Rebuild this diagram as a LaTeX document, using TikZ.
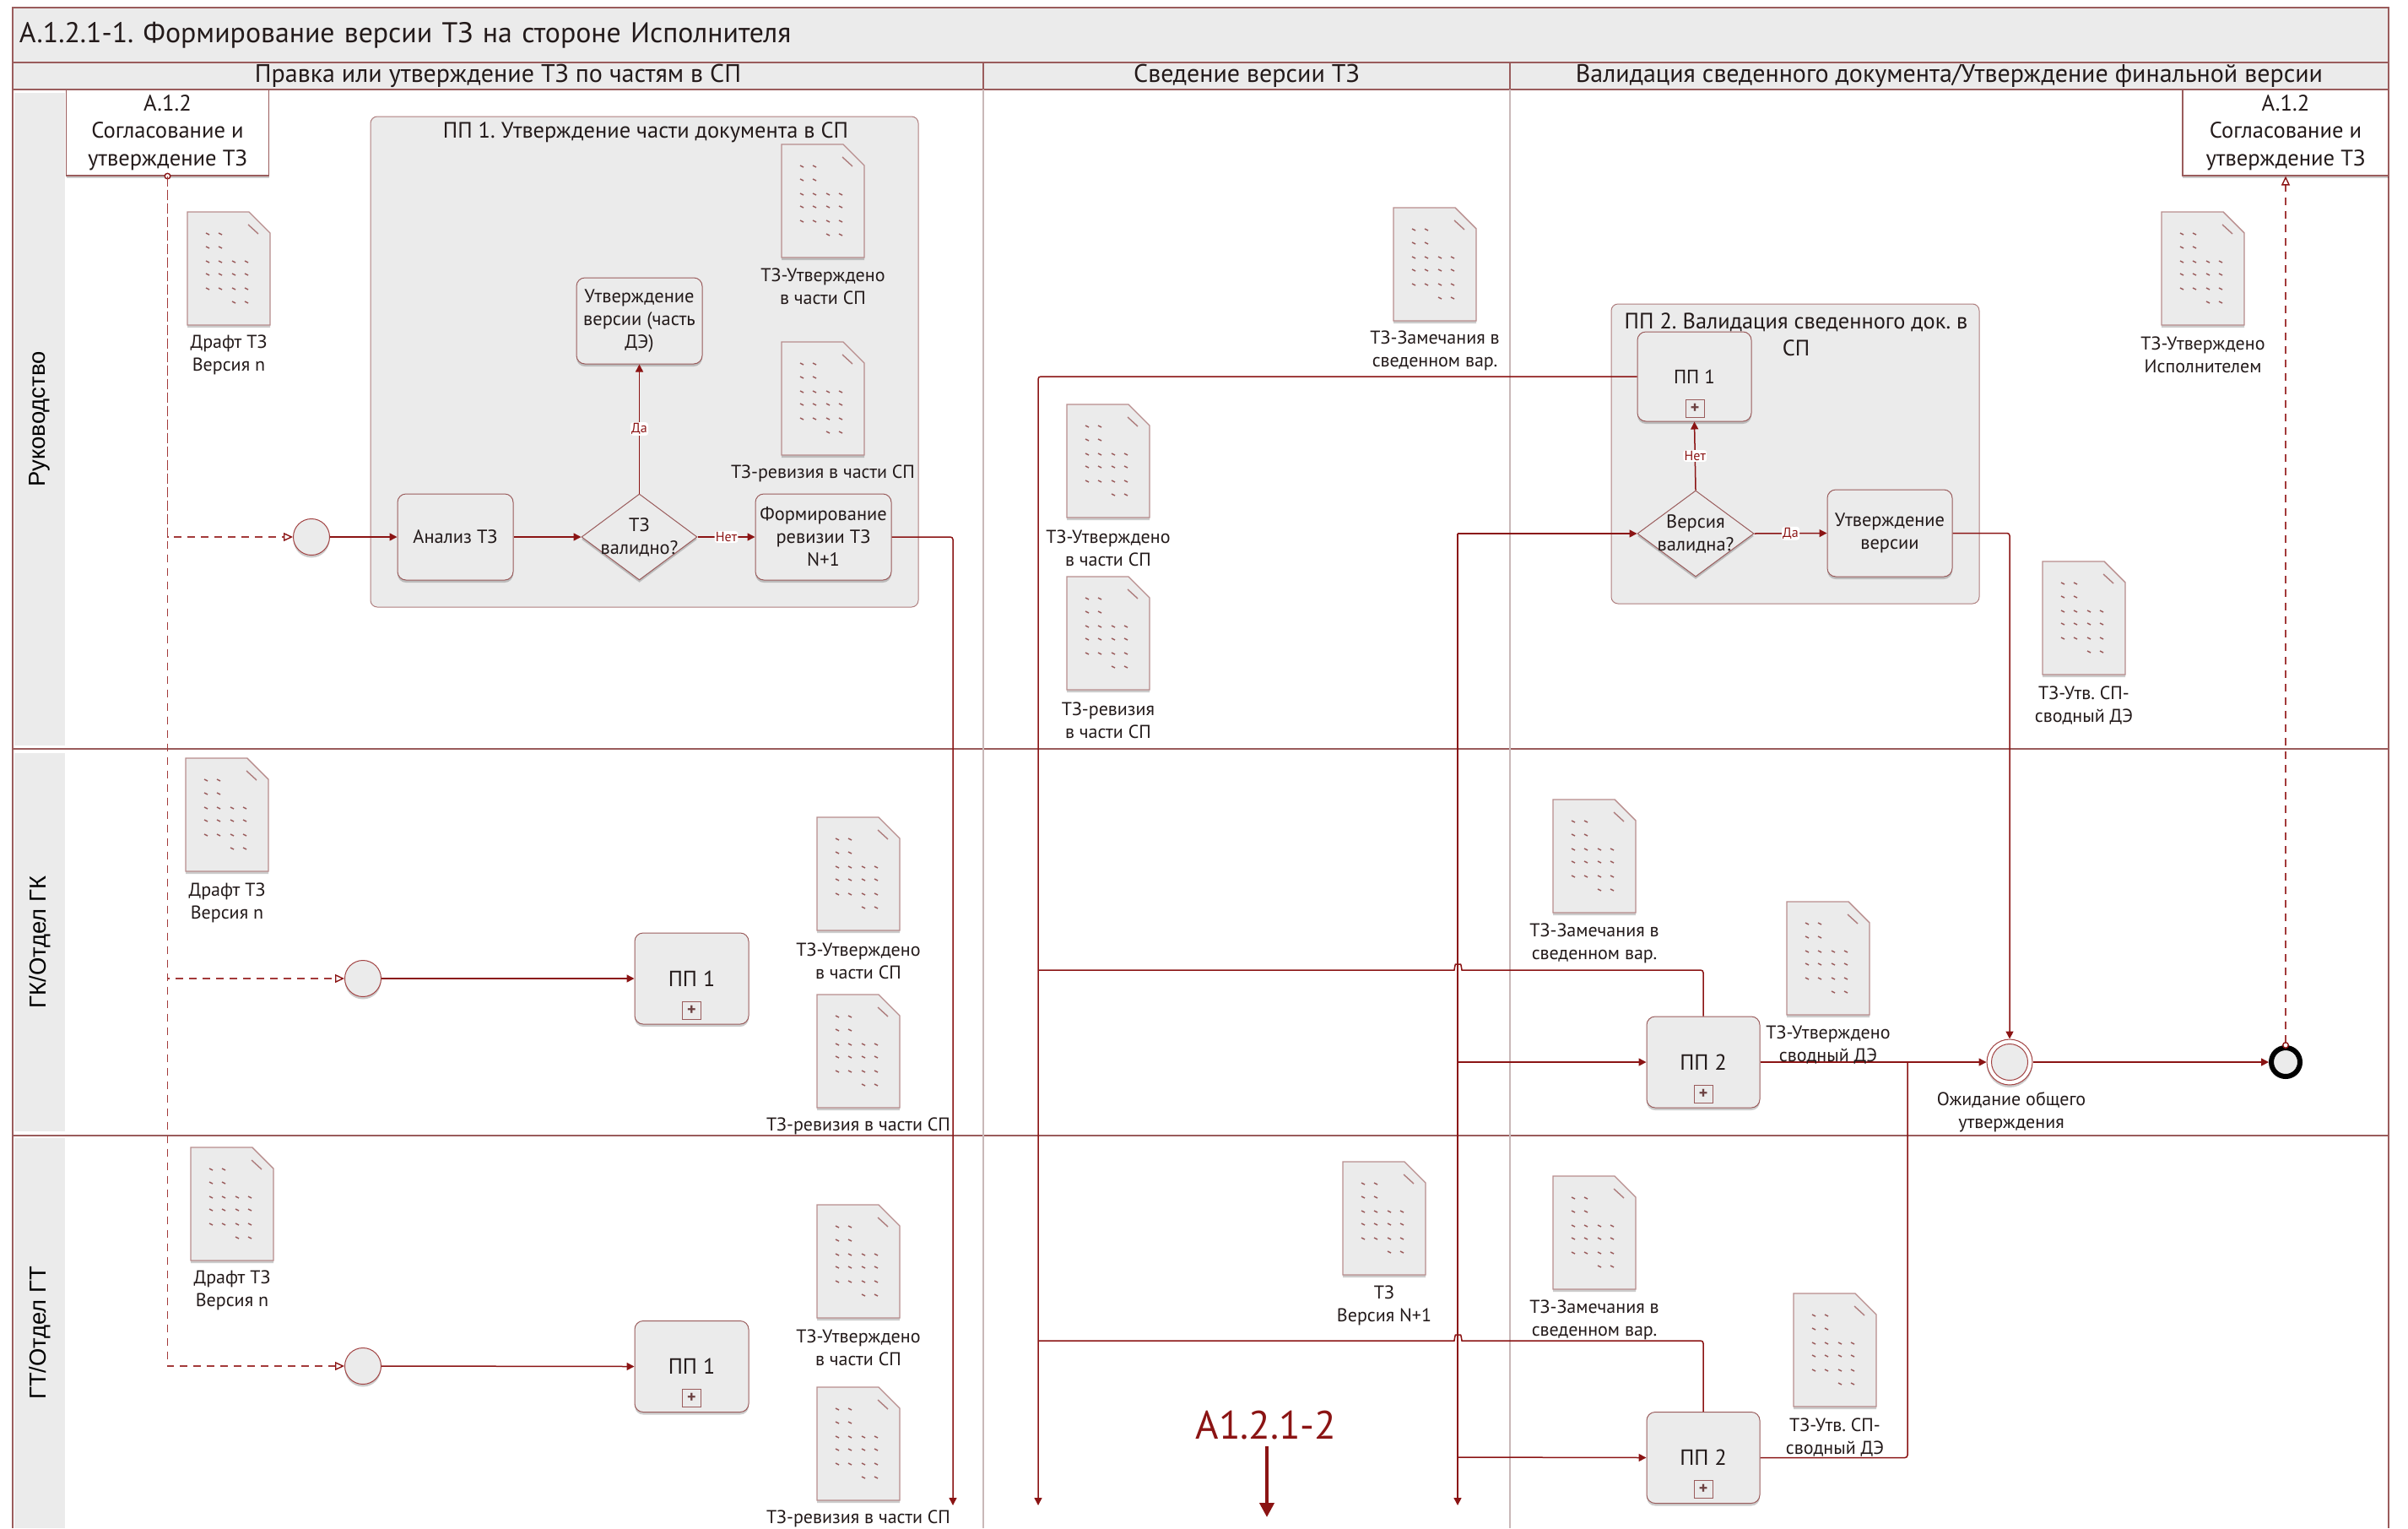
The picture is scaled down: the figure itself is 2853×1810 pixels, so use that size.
\documentclass[tikz,border=0pt]{standalone}
\usepackage{fontspec}
\setmainfont{PT Sans}
\newfontfamily\lanefont{Liberation Sans}
\usepackage{tikz}
\usetikzlibrary{arrows.meta,positioning,shapes.geometric,shadows}
\definecolor{FlowRed}{HTML}{8B1414}
\definecolor{DashRed}{HTML}{A33A3A}
\definecolor{FrameRed}{HTML}{9A5C5C}
\definecolor{PaleLine}{HTML}{C9B8B8}
\definecolor{PanelGray}{HTML}{EBEBEB}
\definecolor{InkGray}{HTML}{231A1A}
\frenchspacing
\tikzset{
  softshadow/.style={drop shadow={shadow xshift=0pt,shadow yshift=-1.5pt,opacity=.2,fill=black}},
  band/.style={draw=FrameRed,fill=PanelGray,line width=.6pt,text=InkGray,inner sep=0pt},
  lanelabel/.style={fill=PanelGray,rotate=90,text=black,minimum height=30pt,inner sep=0pt,font=\lanefont\fontsize{13.7}{15}\selectfont},
  laneline/.style={draw=FrameRed,line width=.6pt},
  columnline/.style={draw=PaleLine,line width=.8pt},
  refbox/.style={draw=FrameRed,fill=white,line width=.6pt,align=center,text=InkGray,minimum width=120pt,minimum height=51pt,inner sep=0pt,font=\fontsize{13.3}{16.2}\selectfont,softshadow},
  group/.style={draw=FrameRed!80,fill=PanelGray,rounded corners=4pt,line width=.5pt,inner sep=0pt},
  grouptitle/.style={align=center,text=InkGray,inner sep=0pt,font=\fontsize{13.2}{16}\selectfont},
  task/.style={draw=FrameRed,fill=PanelGray,rounded corners=5pt,line width=.5pt,align=center,text=InkGray,inner sep=0pt,font=\fontsize{11.2}{13.5}\selectfont,softshadow},
  subtask/.style={task,font=\fontsize{13}{15}\selectfont,text depth=0pt},
  plusbox/.style={draw=FrameRed,fill=PanelGray,line width=.5pt,minimum width=11pt,minimum height=10.5pt,inner sep=0pt,text=FrameRed!70!black,font=\bfseries\fontsize{10}{10}\selectfont},
  decision/.style={diamond,draw=FrameRed,fill=PanelGray,line width=.5pt,inner sep=0pt,softshadow},
  decisiontext/.style={align=center,text=InkGray,inner sep=0pt,font=\fontsize{11.2}{13.5}\selectfont},
  startev/.style={circle,draw=FlowRed!80,fill=PanelGray,line width=.5pt,minimum size=21.5pt,inner sep=0pt,softshadow},
  waitev/.style={circle,draw=FlowRed!80,fill=white,line width=.5pt,minimum size=27pt,inner sep=0pt,softshadow},
  waitin/.style={circle,draw=FlowRed!80,fill=PanelGray,line width=.5pt,minimum size=21.5pt,inner sep=0pt},
  endev/.style={circle,draw=black,fill=PanelGray,line width=3pt,minimum size=17pt,inner sep=0pt,softshadow},
  flow/.style={draw=FlowRed,line width=.75pt,rounded corners=1.5pt,-{Triangle[length=4.5pt,width=4.5pt]}},
  flowjoin/.style={draw=FlowRed,line width=.75pt,rounded corners=1.5pt},
  message/.style={draw=DashRed,line width=.7pt,dash pattern=on 4.5pt off 3.5pt,{Circle[open,length=4pt,width=4pt,fill=white,color=FlowRed]}-{Triangle[open,length=5.5pt,width=5pt,color=FlowRed]},shorten <=-2pt},
  messageto/.style={draw=DashRed,line width=.7pt,dash pattern=on 4.5pt off 3.5pt,-{Triangle[open,length=5.5pt,width=5pt,color=FlowRed]}},
  edgelabel/.style={fill=white,text=FlowRed,inner sep=.6pt,font=\fontsize{8}{9}\selectfont},
  doclabel/.style={align=center,text=InkGray,inner sep=0pt,font=\fontsize{11}{13.5}\selectfont},
  docpic/.pic={
    \path[draw=FrameRed!70,fill=PanelGray,line width=.7pt,softshadow] (0,0) -- (73,0) -- (98,25) -- (98,134) -- (0,134) -- cycle;
    \draw[FrameRed!80,line width=.7pt] (72,15) -- (84,26);
    \foreach \rowy/\cols in {25/{22,37},41/{22,37},58/{22,37,53,68},73/{22,37,53,68},90/{22,37,53,68},106/{53,68}}
      \foreach \colx in \cols
        \draw[FrameRed,line width=.7pt] (\colx,\rowy) -- ++(4,2);
  }
}
\newcommand{\docitem}[5]{\pic at (#2,#3) {docpic}; \node[doclabel] (#1) at (#2+49,#4) {#5};}
\begin{document}
\begin{tikzpicture}[x=.5pt,y=-.5pt]
\useasboundingbox (0,0) rectangle (2853,1810);
\node[band,minimum width=1407.5pt,minimum height=32.5pt,text width=1399.5pt,inner xsep=4pt,align=left,font=\fontsize{16.9}{18}\selectfont] (title) at (1422.5,41.5) {А.1.2.1-1. Формирование версии ТЗ на стороне Исполнителя};
\node[band,minimum width=575pt,minimum height=16pt,font=\fontsize{15}{16}\selectfont] (colA) at (590,90) {Правка или утверждение ТЗ по частям в СП};
\node[band,minimum width=312pt,minimum height=16pt,font=\fontsize{15}{16}\selectfont] (colB) at (1477,90) {Сведение версии ТЗ};
\node[band,minimum width=520.5pt,minimum height=16pt,font=\fontsize{15}{16}\selectfont] (colC) at (2309.5,90) {Валидация сведенного документа/Утверждение финальной версии};
\node[lanelabel,minimum width=386.5pt] (laneA) at (47,496.5) {Руководство};
\node[lanelabel,minimum width=224pt] (laneB) at (47,1116) {ГК/Отдел ГК};
\node[lanelabel,minimum width=231pt] (laneC) at (47,1579) {ГТ/Отдел ГТ};
\draw[laneline] (15,106) -- (15,1810);
\draw[laneline] (2830,106) -- (2830,1810);
\draw[laneline] (15,887) -- (2830,887);
\draw[laneline] (15,1345) -- (2830,1345);
\draw[columnline] (1165,106) -- (1165,1810);
\draw[columnline] (1789,106) -- (1789,1810);
\node[group,minimum width=324.5pt,minimum height=290.5pt] (groupA) at (763.5,428.5) {};
\node[group,minimum width=218pt,minimum height=177.5pt] (groupB) at (2127,537.5) {};
\node[grouptitle] (groupAtitle) at (765,157) {ПП 1. Утверждение части документа в СП};
\node[grouptitle] (groupBtitle) at (2128,396) {ПП 2. Валидация сведенного док. в\\СП};
\node[refbox] (refL) at (198.5,157) {А.1.2\\Согласование и\\утверждение ТЗ};
\node[refbox,minimum width=122pt] (refR) at (2708,157) {А.1.2\\Согласование и\\утверждение ТЗ};
\node[startev] (startA) at (369,636) {};
\node[startev] (startB) at (430,1159) {};
\node[startev] (startC) at (430,1618) {};
\node[task,minimum width=68.5pt,minimum height=51pt] (analysis) at (539.5,636) {Анализ ТЗ};
\node[decision,minimum width=68.5pt,minimum height=51pt] (checkA) at (757.5,636) {};
\node[decisiontext] (checkAtext) at (757.5,636) {ТЗ\\валидно?};
\node[task,minimum width=80.5pt,minimum height=51pt] (revision) at (975.5,636) {Формирование\\ревизии ТЗ\\N+1};
\node[task,minimum width=74.5pt,minimum height=51pt] (approveA) at (757.5,380) {Утверждение\\версии (часть\\ДЭ)};
\node[subtask,minimum width=67.5pt,minimum height=53pt,font=\fontsize{11.5}{13}\selectfont] (ppOne) at (2007.5,446) {ПП 1};
\node[plusbox] (ppOneplus) at (2008,483.5) {+};
\node[decision,minimum width=69pt,minimum height=51pt] (checkB) at (2009,632) {};
\node[decisiontext] (checkBtext) at (2009,632) {Версия\\валидна?};
\node[task,minimum width=74pt,minimum height=51.5pt] (approveB) at (2239,631.5) {Утверждение\\версии};
\node[subtask,minimum width=67.5pt,minimum height=54pt] (ppOneB) at (819.5,1159) {ПП 1};
\node[plusbox] (ppOneBplus) at (819.5,1197) {+};
\node[subtask,minimum width=67.5pt,minimum height=54pt] (ppOneC) at (819.5,1618.5) {ПП 1};
\node[plusbox] (ppOneCplus) at (819.5,1656) {+};
\node[subtask,minimum width=67pt,minimum height=54pt] (ppTwoB) at (2018,1258) {ПП 2};
\node[plusbox] (ppTwoBplus) at (2018,1296) {+};
\node[subtask,minimum width=67pt,minimum height=54pt] (ppTwoC) at (2018,1726.5) {ПП 2};
\node[plusbox] (ppTwoCplus) at (2018,1764) {+};
\node[waitev] (waiting) at (2381,1258) {};
\node[waitin] (waitingin) at (2381,1258) {};
\node[endev] (finish) at (2708,1258) {};
\node[doclabel] (waitinglabel) at (2383,1317.5) {Ожидание общего\\утверждения};
\coordinate (trunkA) at (1129,1783);
\coordinate (trunkB) at (1230,1783);
\coordinate (trunkC) at (1727,1783);
\coordinate (trunkCtop) at (1727,632);
\coordinate (mergeC) at (2260,1258);
\coordinate (pageref) at (1501,1797);
\draw[message] (refL.south) |- (startA.west);
\draw[messageto] (refL.south) |- (startB.west);
\draw[messageto] (refL.south) |- (startC.west);
\draw[message] (finish.north) -- (refR.south);
\draw[flow] (startA.east) -- (analysis.west);
\draw[flow] (analysis.east) -- (checkA.west);
\draw[flow] (checkA.east) -- node[edgelabel] {Нет} (revision.west);
\draw[flow] (checkA.north) -- node[edgelabel] {Да} (approveA.south);
\draw[flow] (revision.east) -| (trunkA);
\draw[flow] (startB.east) -- (ppOneB.west);
\draw[flow] (startC.east) -- (ppOneC.west);
\draw[flow] (ppOne.west) -| (trunkB);
\draw[flow] (checkB.north) -- node[edgelabel] {Нет} (ppOne.south);
\draw[flow] (checkB.east) -- node[edgelabel] {Да} (approveB.west);
\draw[flow] (trunkCtop) -- (checkB.west);
\draw[flow] (trunkCtop) -- (trunkC);
\draw[flow] (1727,1258) -- (ppTwoB.west);
\draw[flow] (1727,1726) -- (ppTwoC.west);
\draw[flow] (approveB.east) -| (waiting.north);
\draw[flow] (ppTwoB.east) -- (waiting.west);
\draw[flowjoin] (ppTwoC.east) -| (mergeC);
\draw[flow] (waiting.east) -- (finish.west);
\draw[flowjoin] (ppTwoB.north) |- (1735,1149) .. controls (1732,1149) and (1731,1142) .. (1727.5,1142) .. controls (1724,1142) and (1723,1149) .. (1720,1149) -- (1230,1149);
\draw[flowjoin] (ppTwoC.north) |- (1735,1588) .. controls (1732,1588) and (1731,1581) .. (1727.5,1581) .. controls (1724,1581) and (1723,1588) .. (1720,1588) -- (1230,1588);
\docitem{docDraftA}{222}{251}{420.5}{Драфт ТЗ\\Версия n}
\docitem{docPartA}{926}{171}{339.5}{ТЗ-Утверждено\\в части СП}
\docitem{docRevA}{926}{405}{561}{ТЗ-ревизия в части СП}
\docitem{docRemA}{1651}{246}{415.5}{ТЗ-Замечания в\\сведенном вар.}
\docitem{docPartM}{1264}{479}{649.5}{ТЗ-Утверждено\\в части СП}
\docitem{docRevM}{1264}{683}{853}{ТЗ-ревизия\\в части СП}
\docitem{docFinal}{2561}{251}{420.5}{ТЗ-Утверждено\\Исполнителем}
\docitem{docSumA}{2420}{665}{835.5}{ТЗ-Утв. СП-\\сводный ДЭ}
\docitem{docDraftB}{220}{898}{1069}{Драфт ТЗ\\Версия n}
\docitem{docPartB}{968}{968}{1138.5}{ТЗ-Утверждено\\в части СП}
\docitem{docRevB}{968}{1178}{1334}{ТЗ-ревизия в части СП}
\docitem{docRemB}{1840}{947}{1117.5}{ТЗ-Замечания в\\сведенном вар.}
\docitem{docSumB}{2117}{1068}{1238}{ТЗ-Утверждено\\сводный ДЭ}
\docitem{docDraftC}{226}{1359}{1528.5}{Драфт ТЗ\\Версия n}
\docitem{docPartC}{968}{1427}{1596.5}{ТЗ-Утверждено\\в части СП}
\docitem{docRevC}{968}{1643}{1799}{ТЗ-ревизия в части СП}
\docitem{docNext}{1591}{1376}{1546}{ТЗ\\Версия N+1}
\docitem{docRemC}{1840}{1393}{1563.5}{ТЗ-Замечания в\\сведенном вар.}
\docitem{docSumC}{2125}{1532}{1702.5}{ТЗ-Утв. СП-\\сводный ДЭ}
\node[text=FlowRed,inner sep=0pt,font=\fontsize{23.5}{26}\selectfont] (nextsheet) at (1500,1688) {А1.2.1-2};
\draw[draw=FlowRed,line width=2pt,-{Triangle[length=8.5pt,width=8.5pt]}] (nextsheet.south -| pageref) ++(0,8) -- (pageref);
\end{tikzpicture}
\end{document}
